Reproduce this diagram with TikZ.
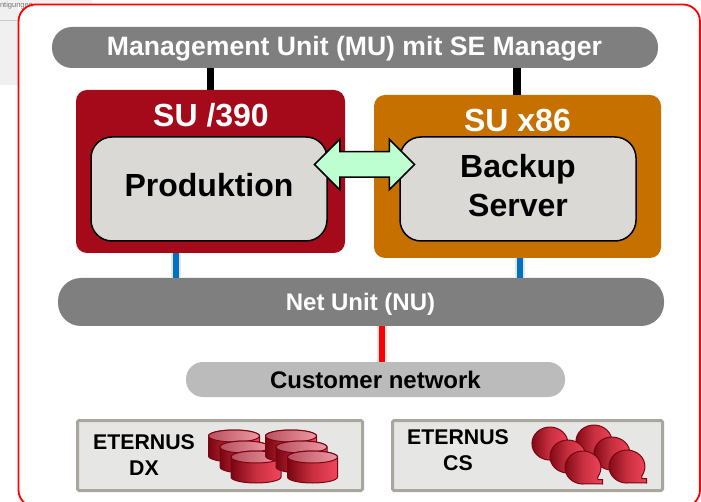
\documentclass[tikz,border=0pt]{standalone}
\usepackage{fontspec}
\setmainfont{Liberation Sans}
\definecolor{barg}{HTML}{7F7F7F}
\definecolor{sured}{HTML}{A50A1A}
\definecolor{suor}{HTML}{C67000}
\definecolor{inbox}{HTML}{DAD9D6}
\definecolor{custg}{HTML}{BBBBBB}
\definecolor{stbox}{HTML}{E6E6E5}
\definecolor{stedge}{HTML}{A9A69E}
\definecolor{arr}{HTML}{BEFFD2}
\definecolor{blue1}{HTML}{0070C0}
\definecolor{dkred}{HTML}{7A0512}
\definecolor{brred}{HTML}{F2465C}
\definecolor{midred}{HTML}{C8303F}
\definecolor{topa}{HTML}{B8505F}
\definecolor{topb}{HTML}{EE98A4}
\usetikzlibrary{shapes.arrows}
\tikzset{
  x=1pt,y=-1pt,
  every node/.style={inner sep=0pt,outer sep=0pt},
  bar/.style={rectangle,rounded corners=#1,fill=barg},
  subox/.style={rectangle,rounded corners=11pt,anchor=north west},
  innerbox/.style={rectangle,rounded corners=21pt,draw=black,line width=1.5pt,fill=inbox,anchor=north west},
  bigtxt/.style={font=\fontsize{32}{39}\selectfont\bfseries,align=center},
  stor/.style={rectangle,rounded corners=1.5pt,draw=stedge,line width=3pt,fill=stbox,anchor=north west},
  stxt/.style={font=\fontsize{21.3}{26}\selectfont\bfseries,align=center},
  bartxt/.style={font=\fontsize{24}{28}\selectfont\bfseries},
  link/.style={line width=#1},
  softlink/.style={line width=#1,preaction={draw=black!10,line width=#1+4pt}},
  cyl/.style={draw=dkred,line width=1pt,left color=dkred,right color=brred,middle color=midred},
}
\newcommand{\dbcyl}[3]{% left x, top y, width
  \path[cyl] (#1,#2+6) -- (#1,#2+26) arc[x radius=#3*0.5pt,y radius=6pt,start angle=180,end angle=360] -- (#1+#3,#2+6) arc[x radius=#3*0.5pt,y radius=6pt,start angle=0,end angle=180] -- cycle;
  \path[draw=dkred,line width=1pt,left color=topa,right color=topb] (#1+#3*0.5,#2+6) ellipse[x radius=#3*0.5pt,y radius=6pt];
}
\newcommand{\bubble}[2]{% centre x,y
  \path[cyl] (#1+14.7,#2+9.5) arc[x radius=18pt,y radius=16.5pt,start angle=325,end angle=640] -- (#1+19.5,#2+16.5) -- (#1+19.5,#2+12) -- (#1+15,#2+12) -- cycle;
}
\begin{document}
\begin{tikzpicture}
\useasboundingbox (0,0) rectangle (701,502);
\fill[white] (0,0) rectangle (701,502);
\fill[black!6] (0,0) rectangle (18,85);
\fill[black!6] (18,0) rectangle (92,4);
\draw[black!20,line width=0.7pt] (0,20) -- (18,20);
\node[anchor=west,text=black!55,font=\fontsize{7.5}{9}\selectfont] (frag) at (0,6) {ntigungen};
\draw[red,line width=1.8pt,rounded corners=17pt] (18.5,4.5) rectangle (700,507);

\node[bar=20pt,minimum width=606pt,minimum height=41pt] (mu) at (355,47.5) {};
\node[text=white,font=\fontsize{26.6}{30}\selectfont\bfseries] (mut) at (354.5,48.5) {Management Unit (MU) mit SE Manager};
\node[subox,fill=sured,minimum width=269pt,minimum height=163pt] (su390) at (76,90) {};
\node[subox,fill=suor,minimum width=287pt,minimum height=163pt] (sux86) at (374,95) {};
\node[bigtxt,text=white] (t390) at (211,115) {SU /390};
\node[bigtxt,text=white] (tx86) at (517.5,120) {SU x86};
\node[innerbox,minimum width=236pt,minimum height=104pt] (prod) at (91,137) {};
\node[innerbox,minimum width=236pt,minimum height=104pt] (back) at (400,137) {};
\node[bigtxt] (prodt) at (209,185) {Produktion};
\node[bigtxt] (backt) at (518,186) {Backup\\Server};
\node[bar=23pt,minimum width=606pt,minimum height=48pt] (nu) at (361,302) {};
\node[bartxt,text=white] (nut) at (360.5,304) {Net Unit (NU)};
\node[bar=17pt,fill=custg,minimum width=379pt,minimum height=35pt] (cust) at (375.5,379.5) {};
\node[bartxt,text=black] (custt) at (375.5,379.5) {Customer network};

\draw[link=7.5pt,black] (210.5,0 |- mu.south) -- (210.5,0 |- su390.north);
\draw[link=7.5pt,black] (517,0 |- mu.south) -- (517,0 |- sux86.north);
\draw[softlink=6pt,blue1] (175.5,0 |- su390.south) -- (175.5,0 |- nu.north);
\draw[softlink=6pt,blue1] (519.5,0 |- sux86.south) -- (519.5,0 |- nu.north);
\draw[softlink=6pt,red] (382,0 |- nu.south) -- (382,0 |- cust.north);

\node[double arrow,draw=black,line width=1.5pt,fill=arr,minimum width=49pt,minimum height=100pt,inner ysep=12pt,inner xsep=0pt,double arrow head extend=12.5pt,double arrow tip angle=90,double arrow head indent=0pt] (dbl) at (364.5,164.5) {};

\node[stor,minimum width=285pt,minimum height=70pt] (dx) at (77.5,420.5) {};
\node[stor,minimum width=270pt,minimum height=70pt] (cs) at (392.5,420.5) {};
\node[stxt] (dxt) at (144,455) {ETERNUS\\DX};
\node[stxt] (cst) at (458,450.5) {ETERNUS\\CS};

\dbcyl{208.5}{430}{51}
\dbcyl{220}{441}{49}
\dbcyl{231}{451}{50}
\dbcyl{265.5}{430}{51}
\dbcyl{276}{441}{51}
\dbcyl{287.5}{451}{50}

\bubble{550}{443.5}
\bubble{594}{441.5}
\bubble{568}{456.5}
\bubble{612}{453.5}
\bubble{583}{467.5}
\bubble{627}{466.5}
\end{tikzpicture}
\end{document}
